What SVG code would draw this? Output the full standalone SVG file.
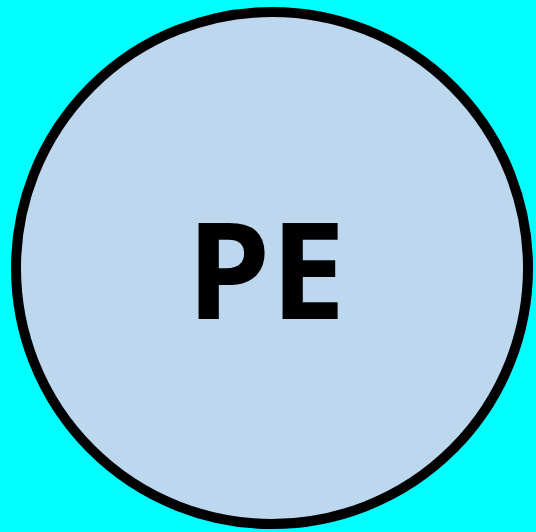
<svg xmlns="http://www.w3.org/2000/svg" width="536" height="532" viewBox="0 0 536 532">
<style>
.node{fill:#BDD7EE;stroke:#000;stroke-width:10}
.lbl{font-family:"Open Sans","Liberation Sans",sans-serif;font-weight:bold;font-size:134px;fill:#000;text-anchor:middle}
</style>
<rect width="536" height="532" fill="#00FFFF"/>
<g id="connectors"></g>
<g id="PE">
<circle class="node" cx="272" cy="268" r="256"/>
<text class="lbl" x="266" y="319">PE</text>
</g>
</svg>
